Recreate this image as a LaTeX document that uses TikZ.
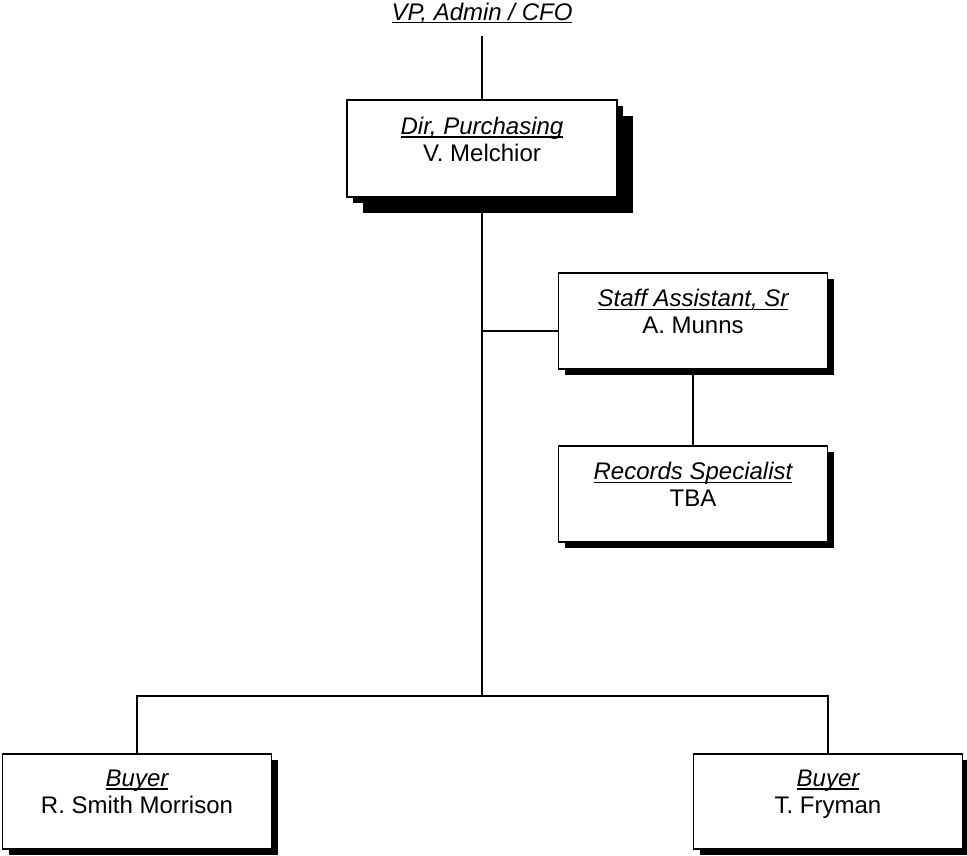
\documentclass[tikz,border=0pt]{standalone}
\usepackage{fontspec}
\setmainfont{Liberation Sans}
\usetikzlibrary{positioning,shadows}
\newcommand{\ulit}[1]{\setbox0\hbox{\itshape #1}\rlap{\rule[-3.2pt]{\wd0}{1.3pt}}\box0}

\begin{document}
\begin{tikzpicture}[x=1pt, y=-1pt, line width=1.3pt,
    every node/.style={font=\fontsize{24}{27}\selectfont},
    post/.style={draw, fill=white, minimum width=269pt, minimum height=96pt, inner sep=0pt,
      drop shadow={fill=black, opacity=1, shadow xshift=6pt, shadow yshift=-6pt}},
    bigpost/.style={post, minimum width=270pt, minimum height=97pt,
      drop shadow={fill=black, opacity=1, shadow xshift=16pt, shadow yshift=-16pt}},
    ttl/.style={align=center, inner sep=0pt}]
    \useasboundingbox (0,0) rectangle (967,855);
    % boxes
    \node[ttl, anchor=base] (vp) at (482,20) {\ulit{VP, Admin / CFO}};
    \node[bigpost] (dir) at (482,148.5) {};
    \node[post] (staff) at (693,321) {};
    \node[post] (rec) at (693,494) {};
    \node[post, minimum height=95pt] (buyA) at (137,801.5) {};
    \node[post, minimum height=95pt] (buyB) at (828,801.5) {};
    % texts
    \node[ttl, below=17pt of dir.north] (dirt) {\ulit{Dir, Purchasing}\\V. Melchior};
    \node[ttl, below=16.5pt of staff.north] (stafft) {\ulit{Staff Assistant, Sr}\\A. Munns};
    \node[ttl, below=16.5pt of rec.north] (rect) {\ulit{Records Specialist}\\TBA};
    \node[ttl, below=16pt of buyA.north] (buyAt) {\ulit{Buyer}\\R. Smith Morrison};
    \node[ttl, below=16pt of buyB.north] (buyBt) {\ulit{Buyer}\\T. Fryman};
    % lines
    \coordinate (sa) at (482,331);
    \coordinate (jn) at (482,696);
    \draw[shorten <=12pt] (vp.south) -- (dir.north);
    \draw (dir.south) -- (jn);
    \draw (sa) -- (sa -| staff.west);
    \draw (staff.south) -- (rec.north);
    \draw (buyA.north) |- (jn) -| (buyB.north);
  \end{tikzpicture}
\end{document}
